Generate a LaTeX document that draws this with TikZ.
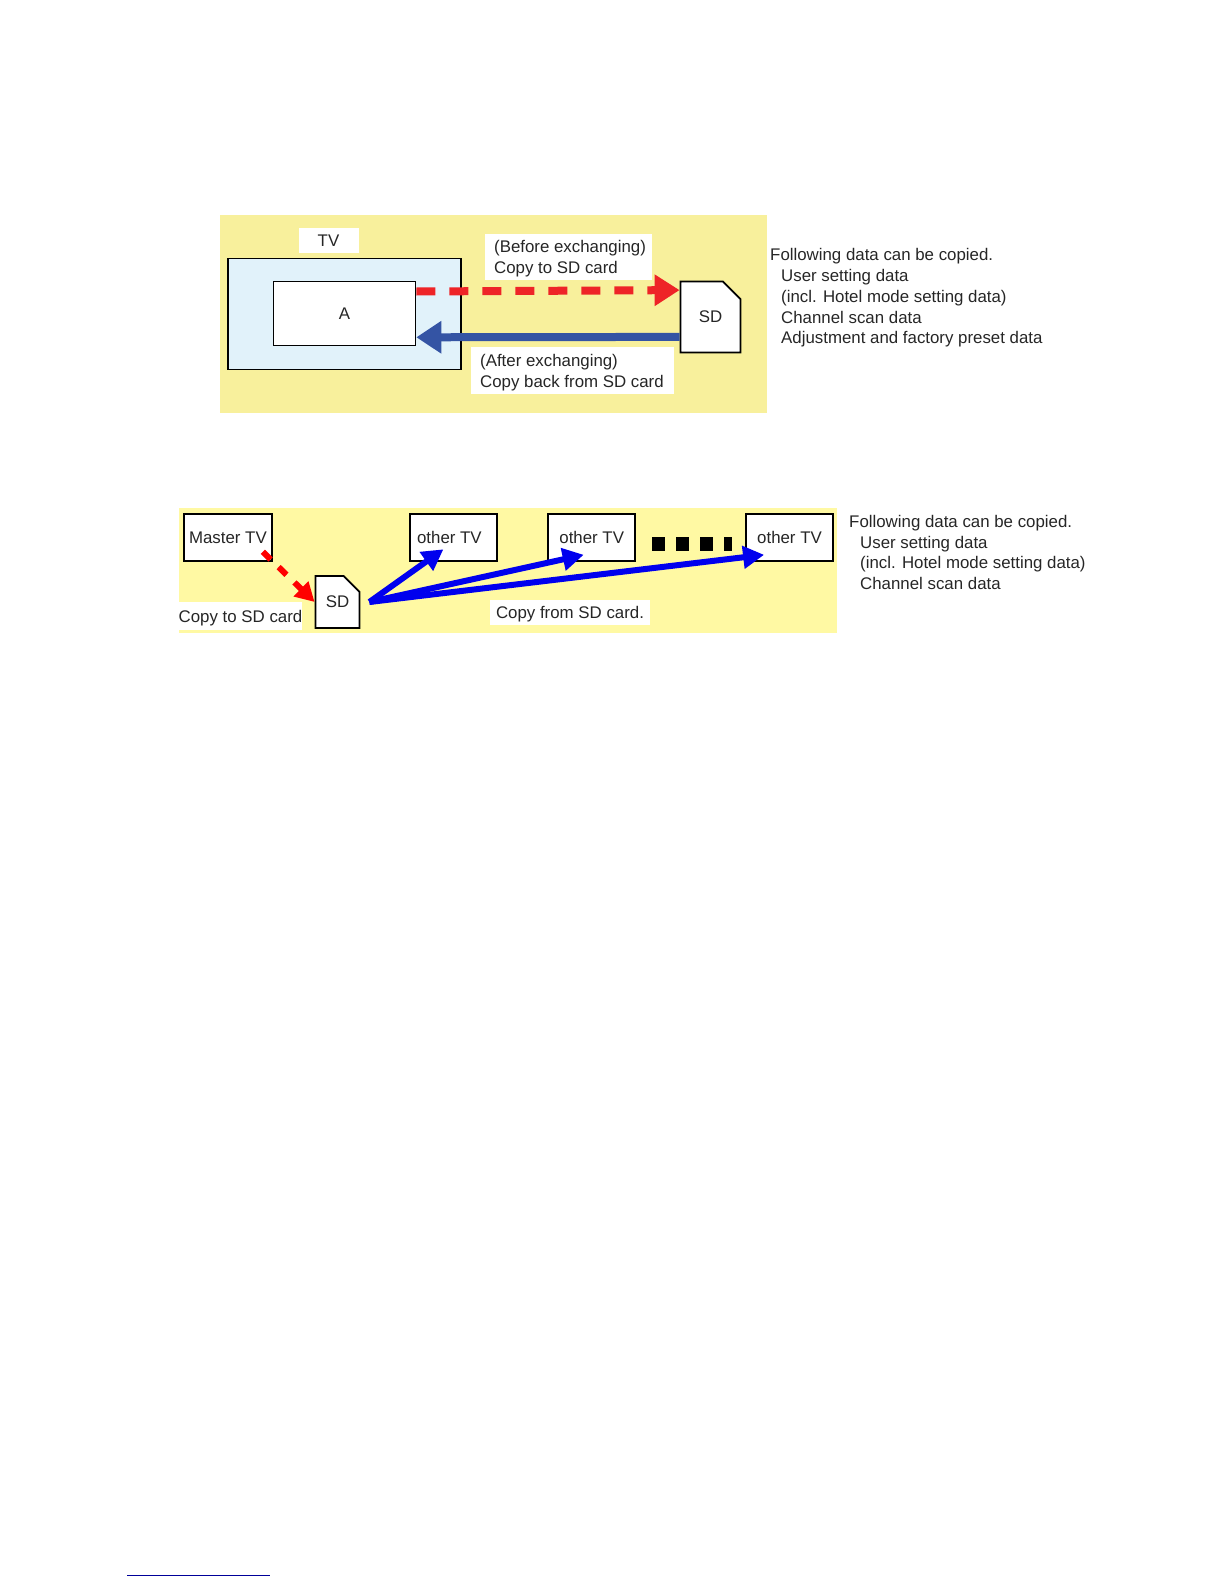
\documentclass[tikz,border=0pt]{standalone}
\usepackage{xcolor}
\usepackage{fontspec}
\setmainfont{Liberation Sans}
\usetikzlibrary{arrows.meta,positioning,shapes.misc}
\definecolor{panelA}{HTML}{F8F09C}
\definecolor{panelB}{HTML}{FFF9A3}
\definecolor{tvblue}{HTML}{E1F2FA}
\definecolor{redA}{HTML}{EE2427}
\definecolor{blueA}{HTML}{3454A4}
\definecolor{blueB}{HTML}{0000EE}
\definecolor{linkblue}{HTML}{000099}

\begin{document}
\begin{tikzpicture}[
  x=1pt, y=-1pt,
  every node/.style={font=\fontsize{16.85}{20.7}\selectfont, text=black!85},
  panel/.style={inner sep=0pt, anchor=north west},
  box/.style={draw=black, line width=1.8pt, fill=white, inner sep=0pt},
  tag/.style={align=left, anchor=north west, inner sep=0pt},
  patch/.style={fill=white, inner sep=0pt, text height=12pt, text depth=0pt},
  sdcard/.style={box, chamfered rectangle, chamfered rectangle corners=north east},
  notes/.style={align=left, anchor=north west, inner sep=0pt},
  arrred/.style={-{Triangle[length=25pt, width=30pt]}, line width=8pt, redA, dash pattern=on 19pt off 14pt},
  arrblue/.style={-{Triangle[length=25pt, width=31pt]}, line width=8pt, blueA},
  fanred/.style={-{Triangle[length=19pt, width=20pt]}, line width=6pt, red, dash pattern=on 11pt off 11pt},
  fanblue/.style={-{Triangle[length=21pt, width=22pt]}, line width=6pt, blueB},
  dot/.style={fill=black, inner sep=0pt, minimum height=14pt}
]
\useasboundingbox (0,0) rectangle (1224,1584);

% upper panel
\node[panel, fill=panelA, minimum width=547pt, minimum height=198pt] (backA) at (220,215) {};
\node[box, fill=tvblue, minimum width=233pt, minimum height=111pt, anchor=north west] (tv) at (227,257.5) {};
\node[box, minimum width=142pt, minimum height=64pt, anchor=north west] (a) at (272.5,280.5) {A};
\node[patch, minimum width=60pt, minimum height=25pt] (tvtag) at (328.5,240) {TV};
\node[sdcard, minimum width=60pt, minimum height=71pt, chamfered rectangle xsep=12pt, chamfered rectangle ysep=13pt, anchor=center] (sd) at (710.5,317) {\raisebox{-1pt}{SD}};
\node[fill=white, minimum width=167pt, minimum height=46pt, inner sep=0pt] (before) at (568.5,257) {};
\node[tag] (beforetxt) at (494,240) {(Before exchanging)\\Copy to SD card};
\node[fill=white, minimum width=203pt, minimum height=47pt, inner sep=0pt] (after) at (572.5,370.5) {};
\node[tag] (aftertxt) at (480,354.5) {(After exchanging)\\Copy back from SD card};
\draw[arrred] ([yshift=-11pt]a.north east) -- ([yshift=-9.5pt]sd.north west);
\draw[arrblue] ([yshift=16.5pt]sd.south west) -- ([yshift=9pt]a.south east);
\node[notes] (notesA) at (770,248.5) {Following data can be copied.\\
  \hspace*{11pt}User setting data\\
  \hspace*{11pt}(incl. Hotel mode setting data)\\
  \hspace*{11pt}Channel scan data\\
  \hspace*{11pt}Adjustment and factory preset data};

% lower panel
\node[panel, fill=panelB, minimum width=658pt, minimum height=125pt] (backB) at (179,508) {};
\node[box, minimum width=88pt, minimum height=47pt, anchor=north west] (master) at (183,513) {Master TV};
\node[box, minimum width=87pt, minimum height=47pt, anchor=north west] (tv1) at (409,513) {\hspace*{-8pt}other TV};
\node[box, minimum width=87pt, minimum height=47pt, right=49.5pt of tv1] (tv2) {other TV};
\node[box, minimum width=87pt, minimum height=47pt, right=109pt of tv2] (tv3) {other TV};
\node[sdcard, minimum width=44pt, minimum height=52pt, chamfered rectangle xsep=9pt, chamfered rectangle ysep=10pt, anchor=center] (sdb) at (337.5,602) {SD};
\node[patch, minimum width=123pt, minimum height=28pt] (totag) at (240.5,616) {Copy to SD card};
\node[patch, minimum width=160pt, minimum height=25pt] (fromtag) at (570,612.5) {Copy from SD card.};
\foreach \i/\x in {1/658.5,2/682,3/706}
  \node[dot, minimum width=13pt] (dot\i) at (\x,544) {};
\node[dot, minimum width=8pt] (dot4) at (728,544) {};
\coordinate (fan) at ([xshift=9pt]sdb.east);
\draw[fanred] ([shift={(-10pt,10pt)}]master.south east) -- (sdb.west);
\draw[fanblue] (fan) -- ([shift={(-10pt,12.5pt)}]tv1.south);
\draw[fanblue] (fan) -- ([shift={(-8pt,7pt)}]tv2.south);
\draw[fanblue] (fan) -- ([shift={(19pt,7pt)}]tv3.south west);
\node[notes] (notesB) at (849,515) {Following data can be copied.\\
  \hspace*{11pt}User setting data\\
  \hspace*{11pt}(incl. Hotel mode setting data)\\
  \hspace*{11pt}Channel scan data};

% rule at the foot of the page
\coordinate (rulel) at (127,1575);
\coordinate (ruler) at (270,1575);
\draw[linkblue, line width=1pt] (rulel) -- (ruler);
\end{tikzpicture}
\end{document}
